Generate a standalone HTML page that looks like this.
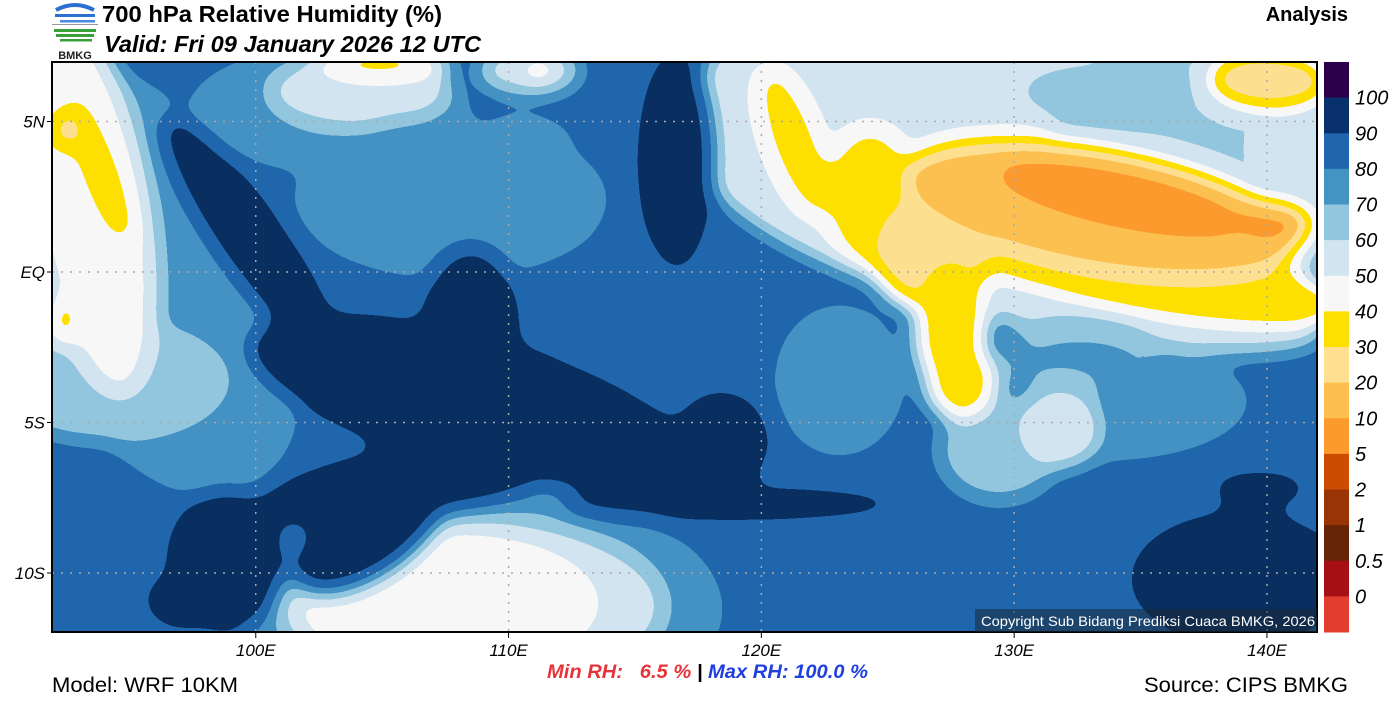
<!DOCTYPE html>
<html><head><meta charset="utf-8">
<style>
html,body{margin:0;padding:0;background:#fff;}
body{width:1400px;height:709px;overflow:hidden;position:relative;font-family:"Liberation Sans",Arial,sans-serif;}
svg{position:absolute;left:0;top:0;}
</style></head>
<body>
<svg id="chart" width="1400" height="709" viewBox="0 0 1400 709">
  <defs>
    <clipPath id="mapclip"><rect x="52" y="62" width="1265" height="570"/></clipPath>
    <filter id="poster" x="-5%" y="-5%" width="110%" height="110%" color-interpolation-filters="sRGB">
      <feGaussianBlur stdDeviation="11"/>
      <feComponentTransfer>
        <feFuncR type="discrete" tableValues="0.992 0.992 0.996 0.996 0.969 0.820 0.573 0.263 0.129 0.039"/>
        <feFuncG type="discrete" tableValues="0.604 0.753 0.878 0.878 0.969 0.898 0.773 0.576 0.400 0.184"/>
        <feFuncB type="discrete" tableValues="0.180 0.314 0.565 0.000 0.969 0.941 0.871 0.765 0.675 0.380"/>
        <feFuncA type="discrete" tableValues="1 1"/>
      </feComponentTransfer>
    </filter>
  </defs>
  <g>
    <path d="M56 10 Q75 0 94 10" stroke="#2b6fd0" stroke-width="4" fill="none"/>
    <rect x="55" y="14" width="40" height="3" fill="#2b6fd0"/>
    <rect x="60" y="20" width="35" height="2.5" fill="#4a8ae0"/>
    <rect x="52" y="24" width="46" height="1" fill="#999"/>
    <rect x="54" y="29" width="42" height="3" fill="#3aa13a"/>
    <rect x="56" y="34" width="38" height="3" fill="#3aa13a"/>
    <rect x="60" y="39" width="32" height="2.5" fill="#3aa13a"/>
    <text x="75" y="59" font-size="11" font-weight="bold" text-anchor="middle" fill="#222">BMKG</text>
  </g>
  <text x="102" y="22" font-size="23" font-weight="bold" fill="#000" textLength="340" lengthAdjust="spacingAndGlyphs">700 hPa Relative Humidity (%)</text>
  <text x="104" y="52" font-size="23" font-weight="bold" font-style="italic" fill="#000" textLength="377" lengthAdjust="spacingAndGlyphs">Valid: Fri 09 January 2026 12 UTC</text>
  <text x="1348" y="21" font-size="20" font-weight="bold" text-anchor="end" fill="#000">Analysis</text>

  <g clip-path="url(#mapclip)">
    <g id="field" filter="url(#poster)"></g>
    <g id="grid"></g>
  </g>
  <rect x="52" y="62" width="1265" height="570" fill="none" stroke="#000" stroke-width="2"/>
  <g id="axes"></g>
  <g>
    <rect x="975" y="609" width="342" height="23" fill="#1a2a3a" fill-opacity="0.55"/>
    <text x="981" y="626" font-size="14" fill="#fff" textLength="334" lengthAdjust="spacingAndGlyphs">Copyright Sub Bidang Prediksi Cuaca BMKG, 2026</text>
  </g>
  <g id="cbar"></g>
  <text x="547" y="678" font-size="19" font-weight="bold" font-style="italic" textLength="321" lengthAdjust="spacingAndGlyphs" xml:space="preserve"><tspan fill="#e8333a">Min RH:   6.5 %</tspan><tspan fill="#000"> | </tspan><tspan fill="#1f3fe0">Max RH: 100.0 %</tspan></text>
  <text x="52" y="692" font-size="21" fill="#000" textLength="186" lengthAdjust="spacingAndGlyphs">Model: WRF 10KM</text>
  <text x="1144" y="692" font-size="21" fill="#000" textLength="204" lengthAdjust="spacingAndGlyphs">Source: CIPS BMKG</text>
</svg>
<script>
// Field data: [lon, lat, rxDeg, ryDeg, rotation, RH%]
const baseRH = 84;
const blobLon = [95.8,94.2,93.4,93.8,92.3,92.4, 102.9,104.1,104.9,104.9,110.8,111.2,110.1,107.7, 114.4,123.1,110.1,110.3, 108.9,108.5,107.7,108.5, 129.8,119.9,137.3,133.4,141.3,135.4,133.4,132.6,129.4,131.8, 135.4,121.3,124.3,126.7,127.5,127.9,133.4,134.2,140.1,140.1, 99.8,108.5,108.5,106.5,104.5,98.8,97.2,116.6,118.4,118.8,138.9,139.7];
const blobLat = [-0.3,-3.6,2.4,3.4,-1.6,4.7, 5.4,6.0,6.9,7.0,6.7,6.7,4.1,2.4, -1.9,-3.6,-6.9,-7.2, -11.2,-11.1,-11.0,-12.1, 3.4,4.7,5.0,6.0,4.1,-1.6,-4.3,-2.9,-5.9,-5.2, -0.1,4.3,2.5,0.7,-1.9,-3.6,2.1,2.4,1.6,6.4, 1.1,-4.3,-1.9,-6.9,-8.6,-9.6,-10.9,3.7,-5.6,-7.7,-10.2,-7.2];
const blobRx = [5.1,4.7,2.4,0.7,0.6,0.6, 5.5,3.6,2.8,1.8,2.0,0.5,2.4,6.3, 2.4,2.8,2.8,1.0, 9.5,7.7,6.0,0.6, 13.1,2.0,5.9,3.2,1.6,6.7,5.9,3.2,2.4,1.6, 7.9,1.0,1.8,2.4,1.4,1.4,7.9,5.1,1.6,2.4, 5.9,9.1,2.0,6.7,3.6,2.4,1.6,1.6,2.0,6.7,4.4,2.0];
const blobRy = [7.6,2.0,6.6,2.6,0.8,0.7, 2.0,1.3,0.7,0.35,0.8,0.3,1.0,2.7, 3.0,2.7,1.3,0.6, 4.0,3.0,2.4,0.2, 4.7,3.0,2.7,1.0,2.0,1.0,2.0,1.3,1.7,1.3, 1.3,2.6,2.3,2.0,2.2,1.3,2.0,1.0,0.7,1.0, 1.2,2.3,2.7,1.3,1.5,2.4,1.0,3.7,1.7,0.7,2.3,0.7];
const blobRot = [-25,0,-10,-20,0,0, 0,0,0,0,0,0,0,0, 0,0,0,0, 0,0,0,0, 10,-20,0,0,0,5,0,0,0,0, 10,-20,0,0,0,0,10,12,0,0, 55,15,0,-10,-35,0,0,0,0,0,0,0];
const blobRH = [74,64,48,33,35,25, 74,56,45,34,55,35,68,77, 82,78,75,64, 74,57,45,35, 52,52,60,64,57,56,76,70,66,52, 33,36,37,27,34,35,16,6,8,25, 94,95,95,94,94,95,95,94,94,93,94,93];

const lonTicks = [100,110,120,130,140];
const lonLabels = ["100E","110E","120E","130E","140E"];
const latTicks = [5,0,-5,-10];
const latLabels = ["5N","EQ","5S","10S"];

const cbarColors = ["#2d004b","#08306b","#2166ac","#4393c3","#92c5de","#d1e5f0","#f7f7f7","#fee000","#fee090","#fdc050","#fd9a2e","#cc4c02","#993404","#662506","#a50f15","#e33d30"];
const cbarLabels = ["100","90","80","70","60","50","40","30","20","10","5","2","1","0.5","0"];

const NS = "http://www.w3.org/2000/svg";
const X0 = 52, Y0 = 62, W = 1265, H = 570;
const LON0 = 91.94, PXLON = 25.28, PXLAT = 30.1, YEQ = 272;
function xScale(lon){ return X0 + (lon - LON0) * PXLON; }
function yScale(lat){ return YEQ - lat * PXLAT; }
function gray(rh){ const v = Math.round(Math.max(0, Math.min(99.5, rh)) / 100 * 255); return "rgb("+v+","+v+","+v+")"; }
function mk(tag, attrs, parent){ const e = document.createElementNS(NS, tag); for (const k in attrs) e.setAttribute(k, attrs[k]); parent.appendChild(e); return e; }

const field = document.getElementById("field");
const base = mk("rect", {x: X0-60, y: Y0-60, width: W+120, height: H+120, fill: gray(baseRH)}, field);


for (let i = 0; i < blobRH.length; i++) {
  const cx = xScale(blobLon[i]), cy = yScale(blobLat[i]);
  const e = mk("ellipse", {cx: cx, cy: cy, rx: blobRx[i]*PXLON, ry: blobRy[i]*PXLAT, fill: gray(blobRH[i]), transform: "rotate("+blobRot[i]+" "+cx+" "+cy+")"}, field);
  
  
}

const grid = document.getElementById("grid");
const axes = document.getElementById("axes");
lonTicks.forEach((lon, i) => {
  const x = xScale(lon);
  const g = mk("line", {x1: x, y1: Y0, x2: x, y2: Y0+H, stroke: "#aaa", "stroke-width": 1.5, "stroke-dasharray": "2 7"}, grid);
  
  
  const t = mk("line", {x1: x, y1: Y0+H, x2: x, y2: Y0+H+6, stroke: "#000", "stroke-width": 1}, axes);
  
  
  const l = mk("text", {x: x, y: 656, "font-size": 17, "font-style": "italic", "text-anchor": "middle", fill: "#000"}, axes);
  l.textContent = lonLabels[i];
  
  
});
latTicks.forEach((lat, i) => {
  const y = yScale(lat);
  const g = mk("line", {x1: X0, y1: y, x2: X0+W, y2: y, stroke: "#aaa", "stroke-width": 1.5, "stroke-dasharray": "2 7"}, grid);
  
  
  const t = mk("line", {x1: X0-5, y1: y, x2: X0, y2: y, stroke: "#000", "stroke-width": 1}, axes);
  
  
  const l = mk("text", {x: 45, y: y+6, "font-size": 17, "font-style": "italic", "text-anchor": "end", fill: "#000"}, axes);
  l.textContent = latLabels[i];
  
  
});

const cbar = document.getElementById("cbar");
const CB_X = 1324, CB_W = 25, CB_Y = 62, CB_H = 570, segH = CB_H / cbarColors.length;
cbarColors.forEach((c, i) => {
  const r = mk("rect", {x: CB_X, y: CB_Y + i*segH, width: CB_W, height: segH + 0.5, fill: c}, cbar);
  
  
});
cbarLabels.forEach((s, i) => {
  const t = mk("text", {x: 1355, y: CB_Y + (i+1)*segH + 7, "font-size": 20, "font-style": "italic", fill: "#000"}, cbar);
  t.textContent = s;
  
  
});
</script>
</body></html>
